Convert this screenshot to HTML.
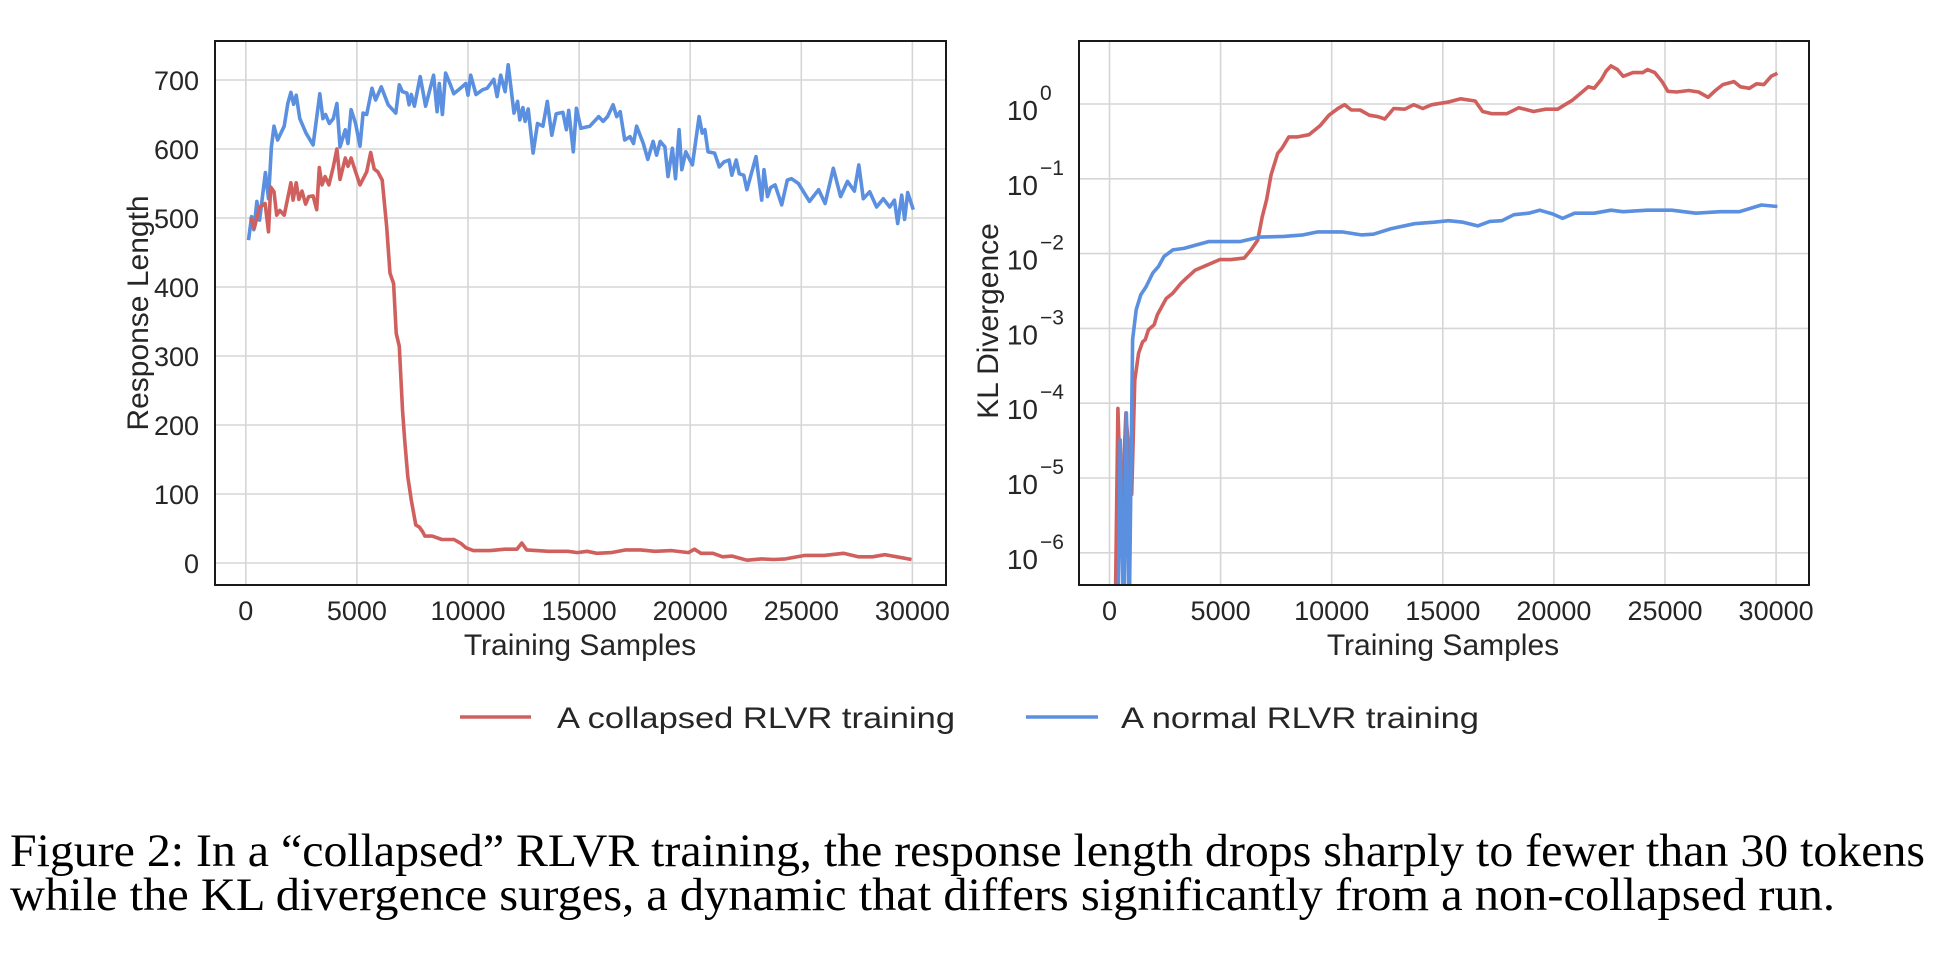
<!DOCTYPE html>
<html><head><meta charset="utf-8"><style>
html,body{margin:0;padding:0;background:#fff;}
svg{display:block;font-family:"Liberation Sans",sans-serif;}
</style></head><body>
<svg id="fig" width="1938" height="968" viewBox="0 0 1938 968" xmlns="http://www.w3.org/2000/svg">
<defs>
<clipPath id="clipL"><rect x="215" y="41" width="731" height="544"/></clipPath>
<clipPath id="clipR"><rect x="1079" y="41" width="730" height="544"/></clipPath>
</defs>
<g id="left"></g>
<g id="right"></g>
<g>
<line x1="460" y1="717" x2="531" y2="717" stroke="#d0605e" stroke-width="3.5"/>
<text x="557" y="728" font-size="30" fill="#262626" textLength="398" lengthAdjust="spacingAndGlyphs">A collapsed RLVR training</text>
<line x1="1026" y1="717" x2="1098" y2="717" stroke="#5b8fdf" stroke-width="3.5"/>
<text x="1121" y="728" font-size="30" fill="#262626" textLength="358" lengthAdjust="spacingAndGlyphs">A normal RLVR training</text>
</g>
<g font-family="'Liberation Serif',serif" font-size="47" fill="#000">
<text x="10" y="866" textLength="1915" lengthAdjust="spacingAndGlyphs">Figure 2: In a “collapsed” RLVR training, the response length drops sharply to fewer than 30 tokens</text>
<text x="10" y="910" textLength="1825" lengthAdjust="spacingAndGlyphs">while the KL divergence surges, a dynamic that differs significantly from a non-collapsed run.</text>
</g>
</svg>
<script>
// ---- Left chart data (Response Length) ----
const lenBlueX=[120,260,360,500,620,880,1020,1150,1270,1430,1730,1890,2030,2150,2270,2430,2710,3030,3330,3470,3590,3760,3940,4100,4240,4480,4600,4740,4940,5140,5280,5440,5680,5840,6100,6410,6750,6910,7050,7250,7350,7450,7590,7850,8090,8450,8610,8710,8850,8990,9210,9360,9660,9900,10000,10120,10360,10660,10860,11160,11310,11470,11670,11810,12070,12230,12330,12470,12570,12710,12930,13130,13370,13570,13770,13970,14270,14430,14530,14740,14880,15080,15480,15880,16080,16280,16530,16690,16850,17050,17290,17450,17590,17890,18090,18330,18490,18650,18860,19000,19200,19340,19500,19620,19800,20100,20400,20540,20660,20800,21100,21310,21510,21750,21870,22070,22210,22410,22550,22960,23220,23320,23480,23620,23820,24120,24370,24560,24870,25370,25780,26070,26440,26770,27080,27390,27590,27790,28080,28390,28690,28980,29190,29340,29520,29650,29790,30040];
const lenBlueY=[468,502,483,524,497,566,528,603,633,613,633,666,682,665,678,644,623,606,680,644,650,637,644,666,603,628,608,657,637,604,652,650,688,671,690,664,652,693,683,681,664,679,662,705,662,707,654,695,650,710,693,680,688,695,678,707,679,686,688,701,676,707,683,722,652,669,642,660,640,658,594,637,633,669,620,651,653,628,656,596,659,630,633,647,640,647,664,647,654,613,618,608,633,608,585,611,591,611,603,560,601,557,628,570,596,577,647,623,628,596,594,574,581,584,562,584,564,562,541,589,526,570,531,544,548,519,555,557,550,524,541,521,572,531,553,539,577,528,538,516,528,516,526,492,533,498,537,512];
const lenRedX=[220,380,620,870,1020,1120,1270,1390,1530,1730,2030,2130,2270,2390,2530,2690,2830,3030,3190,3310,3430,3570,3740,3940,4100,4240,4480,4600,4740,4940,5140,5440,5620,5780,5940,6140,6340,6490,6650,6770,6910,7050,7150,7290,7450,7650,7810,7950,8060,8390,8820,9370,9700,9910,10240,11000,11660,12200,12420,12640,13620,14490,14920,15360,15800,16450,17100,17760,18410,19170,19930,20190,20480,21020,21460,21890,22550,23200,23750,24290,25160,26030,26900,27560,28210,28760,29300,29960];
const lenRedY=[501,485,516,521,480,545,538,504,511,504,551,526,551,527,539,520,531,532,512,573,548,560,548,574,600,556,587,575,587,567,548,567,595,571,567,555,487,420,405,333,314,222,178,125,91,55,52,46,39,39,34,34,28,22,18,18,20,20,29,19,17,17,15,17,14,15,19,19,17,18,15,20,14,14,9,10,4,6,5,6,11,11,14,9,9,12,9,5];
const lenYTicks=[0,100,200,300,400,500,600,700];
const xTicks=[0,5000,10000,15000,20000,25000,30000];
// ---- Right chart data (KL divergence, log10 values; -7 = below axis) ----
const klRedX=[250,380,540,740,1000,1140,1310,1490,1610,1750,2010,2150,2550,2850,3210,3450,3860,4260,4960,5460,6060,6370,6670,6870,7070,7270,7570,7770,8070,8470,8980,9480,9880,10280,10580,10880,11280,11690,12090,12390,12790,13290,13690,14100,14500,14900,15300,15800,16460,16790,17220,17880,18420,19080,19620,20170,20500,20830,21150,21550,21810,22140,22350,22570,22860,23120,23560,24000,24210,24540,24870,25130,25520,26070,26510,26940,27270,27600,28100,28400,28800,29120,29450,29780,30060];
const klRedLog=[-7,-4.07,-5.56,-4.13,-5.22,-3.69,-3.33,-3.18,-3.15,-3.02,-2.95,-2.82,-2.60,-2.53,-2.40,-2.33,-2.22,-2.17,-2.08,-2.08,-2.06,-1.95,-1.82,-1.51,-1.28,-0.95,-0.66,-0.59,-0.44,-0.44,-0.41,-0.29,-0.15,-0.06,-0.01,-0.08,-0.08,-0.15,-0.17,-0.20,-0.06,-0.07,-0.01,-0.06,-0.01,0.01,0.03,0.07,0.04,-0.10,-0.13,-0.13,-0.05,-0.10,-0.07,-0.07,-0.01,0.05,0.13,0.23,0.21,0.33,0.44,0.51,0.46,0.37,0.42,0.42,0.46,0.42,0.30,0.17,0.16,0.18,0.16,0.09,0.18,0.26,0.30,0.23,0.21,0.27,0.26,0.37,0.41];
const klBlueX=[380,480,640,760,880,1040,1200,1410,1650,1950,2210,2450,2850,3350,3960,4460,5110,5870,6750,7840,8710,9370,10460,11330,11880,12640,13080,13730,14600,15260,15910,16570,17110,17660,18200,18860,19360,19950,20390,20930,21810,22570,23120,24210,25300,26390,27480,28350,29340,30060];
const klBlueLog=[-7,-4.49,-7,-4.13,-7,-3.15,-2.75,-2.55,-2.44,-2.26,-2.17,-2.04,-1.95,-1.93,-1.88,-1.84,-1.84,-1.84,-1.78,-1.77,-1.75,-1.71,-1.71,-1.75,-1.74,-1.67,-1.64,-1.60,-1.58,-1.56,-1.58,-1.63,-1.57,-1.56,-1.48,-1.46,-1.42,-1.47,-1.53,-1.46,-1.46,-1.42,-1.44,-1.42,-1.42,-1.46,-1.44,-1.44,-1.35,-1.37];
const klYTicks=[0,-1,-2,-3,-4,-5,-6];

const NS="http://www.w3.org/2000/svg";
function mk(tag,attrs,parent){const e=document.createElementNS(NS,tag);for(const k in attrs)e.setAttribute(k,attrs[k]);parent.appendChild(e);return e;}

const L={x0:215,y0:41,x1:946,y1:585};
const lx=v=>245.8+v/5000*111.1;
const ly=v=>563-v*0.69;
const R={x0:1079,y0:41,x1:1809,y1:585};
const rx=v=>1109.5+v/5000*111.1;
const ry=v=>104-v*74.8;

function drawFrame(g,A,xf,yTicksPos){
  for(const t of xTicks){
    const gl=mk('line',{x1:xf(t),x2:xf(t),y1:A.y0,y2:A.y1,stroke:'#d6d6d6','stroke-width':1.6},g);
    
    
    const tl=mk('text',{x:xf(t),y:620,'font-size':27,'text-anchor':'middle',fill:'#262626'},g);
    tl.textContent=t;
    
    
  }
  for(const p of yTicksPos){
    const gl=mk('line',{x1:A.x0,x2:A.x1,y1:p,y2:p,stroke:'#d6d6d6','stroke-width':1.6},g);
    
    
  }
}
function drawLine(g,xs,ys,xf,yf,color,clip,name){
  const d=xs.map((x,i)=>(i?'L':'M')+xf(x).toFixed(1)+','+yf(ys[i]).toFixed(1)).join('');
  const p=mk('path',{d:d,fill:'none',stroke:color,'stroke-width':3.6,'stroke-linejoin':'round','clip-path':'url(#'+clip+')'},g);
  
  
}
function border(g,A){
  const b=mk('rect',{x:A.x0,y:A.y0,width:A.x1-A.x0,height:A.y1-A.y0,fill:'none',stroke:'#1a1a1a','stroke-width':2},g);
  
  
}

const gl=document.getElementById('left');
drawFrame(gl,L,lx,lenYTicks.map(ly));
for(const t of lenYTicks){
  const tl=mk('text',{x:199,y:ly(t)+10,'font-size':27,'text-anchor':'end',fill:'#262626'},gl);
  tl.textContent=t;
  
  
}
drawLine(gl,lenBlueX,lenBlueY,lx,ly,'#5b8fdf','clipL','normal-length-line');
drawLine(gl,lenRedX,lenRedY,lx,ly,'#d0605e','clipL','collapsed-length-line');
border(gl,L);
let t1=mk('text',{x:580,y:655,'font-size':30,'text-anchor':'middle',fill:'#262626'},gl);
t1.textContent='Training Samples';


let t2=mk('text',{x:0,y:0,'font-size':30,'text-anchor':'middle',fill:'#262626',transform:'translate(148,313) rotate(-90)'},gl);
t2.textContent='Response Length';



const gr=document.getElementById('right');
drawFrame(gr,R,rx,klYTicks.map(ry));
for(const t of klYTicks){
  const y=ry(t);
  const base=mk('text',{x:1038,y:y+16,'font-size':28,'text-anchor':'end',fill:'#262626'},gr);
  base.textContent='10';
  
  
  const sup=mk('text',{x:1040,y:y-4,'font-size':21,fill:'#262626'},gr);
  sup.textContent=t===0?'0':'\u2212'+(-t);
  
  
}
drawLine(gr,klRedX,klRedLog,rx,ry,'#d0605e','clipR','collapsed-kl-line');
drawLine(gr,klBlueX,klBlueLog,rx,ry,'#5b8fdf','clipR','normal-kl-line');
border(gr,R);
let t3=mk('text',{x:1443,y:655,'font-size':30,'text-anchor':'middle',fill:'#262626'},gr);
t3.textContent='Training Samples';


let t4=mk('text',{x:0,y:0,'font-size':30,'text-anchor':'middle',fill:'#262626',transform:'translate(998,321) rotate(-90)'},gr);
t4.textContent='KL Divergence';


</script>
</body></html>
